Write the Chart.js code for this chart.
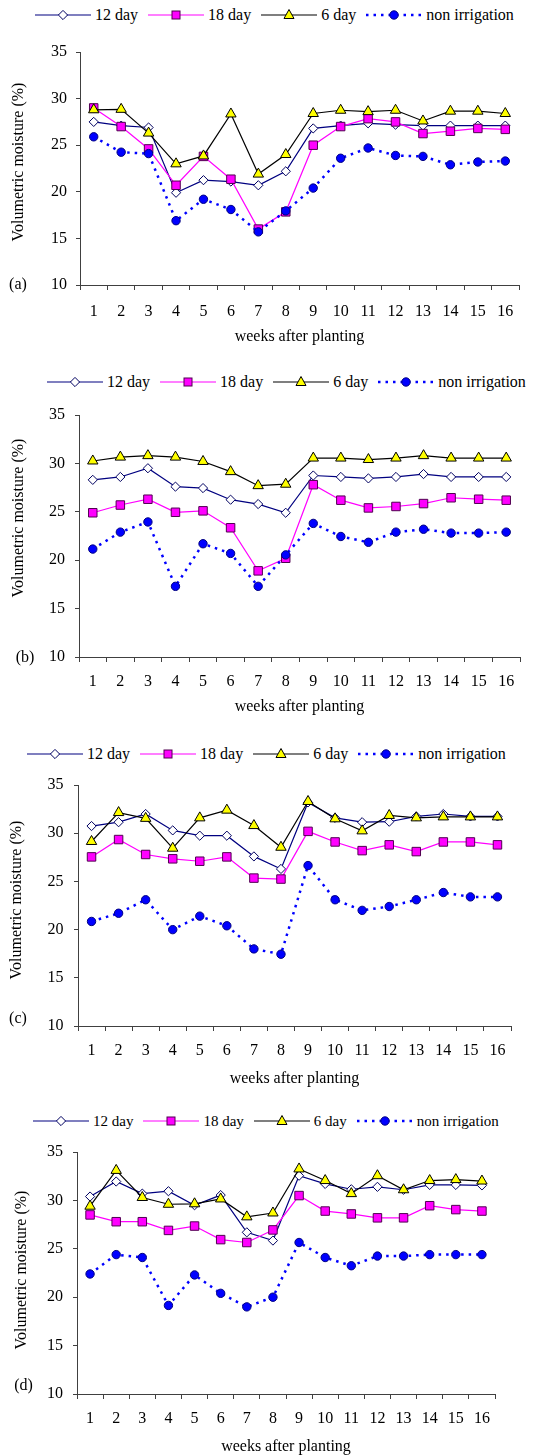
<!DOCTYPE html>
<html>
<head>
<meta charset="utf-8">
<script src="https://cdn.jsdelivr.net/npm/chart.js@4.4.1/dist/chart.umd.min.js"></script>
<style>
  html, body { margin: 0; padding: 0; background: #fff; }
  body { width: 539px; height: 1456px; position: relative; overflow: hidden;
         font-family: "Liberation Serif", "Times New Roman", serif; }
  .panel { position: absolute; left: 0; width: 539px; }
  .legend { position: absolute; height: 20px; display: flex; align-items: center;
            white-space: nowrap; color: #000; }
  .legend .item { display: flex; align-items: center; margin-right: 10px; }
  .legend svg { margin-right: 4px; }
</style>
</head>
<body>
<div class="legend" id="leg-a"></div>
<div class="panel" id="wrap-a"><canvas id="chart-a"></canvas></div>
<div class="legend" id="leg-b"></div>
<div class="panel" id="wrap-b"><canvas id="chart-b"></canvas></div>
<div class="legend" id="leg-c"></div>
<div class="panel" id="wrap-c"><canvas id="chart-c"></canvas></div>
<div class="legend" id="leg-d"></div>
<div class="panel" id="wrap-d"><canvas id="chart-d"></canvas></div>
<script>
const weeks = ["1","2","3","4","5","6","7","8","9","10","11","12","13","14","15","16"];
const seriesNames = ["12 day", "18 day", "6 day", "non irrigation"];
const yTicks = [10, 15, 20, 25, 30, 35];

// (a)
const a12  = [27.5, 27.1, 26.9, 19.9, 21.25, 21.1, 20.7, 22.2, 26.8, 27.1, 27.35, 27.2, 27.1, 27.1, 27.1, 27.1];
const a18  = [29.0, 27.0, 24.6, 20.7, 23.8, 21.35, 16.0, 17.85, 25.0, 27.0, 27.85, 27.5, 26.25, 26.5, 26.8, 26.7];
const a6   = [28.8, 28.85, 26.3, 23.0, 23.85, 28.35, 21.9, 24.0, 28.4, 28.75, 28.6, 28.75, 27.6, 28.65, 28.65, 28.4];
const aNon = [25.9, 24.25, 24.1, 16.9, 19.2, 18.1, 15.7, 17.95, 20.4, 23.6, 24.7, 23.9, 23.8, 22.9, 23.2, 23.3];

// (b)
const b12  = [28.3, 28.6, 29.5, 27.6, 27.45, 26.25, 25.8, 24.9, 28.75, 28.6, 28.45, 28.6, 28.9, 28.6, 28.6, 28.6];
const b18  = [24.9, 25.7, 26.3, 24.95, 25.1, 23.35, 18.9, 20.2, 27.8, 26.2, 25.4, 25.55, 25.85, 26.45, 26.3, 26.2];
const b6   = [30.25, 30.65, 30.8, 30.65, 30.2, 29.15, 27.7, 27.85, 30.55, 30.55, 30.4, 30.55, 30.8, 30.55, 30.55, 30.55];
const bNon = [21.15, 22.9, 23.95, 17.3, 21.7, 20.7, 17.3, 20.55, 23.8, 22.45, 21.85, 22.9, 23.2, 22.8, 22.8, 22.9];

// (c)
const c12  = [30.75, 31.15, 32.0, 30.3, 29.75, 29.75, 27.6, 26.3, 33.2, 31.6, 31.15, 31.2, 31.75, 32.0, 31.75, 31.75];
const c18  = [27.55, 29.35, 27.8, 27.35, 27.1, 27.55, 25.35, 25.25, 30.2, 29.1, 28.2, 28.8, 28.1, 29.1, 29.1, 28.8];
const c6   = [29.15, 32.15, 31.55, 28.45, 31.6, 32.4, 30.8, 28.55, 33.3, 31.5, 30.25, 31.85, 31.6, 31.7, 31.7, 31.7];
const cNon = [20.85, 21.7, 23.1, 20.0, 21.4, 20.4, 18.0, 17.45, 26.65, 23.1, 22.0, 22.4, 23.1, 23.85, 23.4, 23.4];

// (d)
const d12  = [30.4, 31.95, 30.7, 30.95, 29.5, 30.55, 26.7, 25.85, 32.55, 31.7, 31.15, 31.4, 31.1, 31.6, 31.6, 31.55];
const d18  = [28.5, 27.8, 27.8, 26.9, 27.35, 25.95, 25.65, 26.95, 30.5, 28.9, 28.6, 28.2, 28.2, 29.45, 29.05, 28.9];
const d6   = [29.4, 33.1, 30.3, 29.6, 29.65, 30.15, 28.3, 28.7, 33.25, 32.05, 30.7, 32.55, 31.1, 32.05, 32.15, 32.0];
const dNon = [22.4, 24.4, 24.1, 19.15, 22.3, 20.4, 19.0, 20.0, 25.65, 24.1, 23.25, 24.25, 24.25, 24.4, 24.4, 24.4];

const FONT = '"Liberation Serif", "Times New Roman", serif';
const AXIS = '#404040';
const PAD_TOP = 20;

const styles = [
  { borderColor: '#000080', borderWidth: 1.2, pointStyle: 'rectRot', pointRadius: 4.6,
    pointBackgroundColor: '#ffffff', pointBorderColor: '#000060', order: 4 },
  { borderColor: '#ff00ff', borderWidth: 1.2, pointStyle: 'rect', pointRadius: 6,
    pointBackgroundColor: '#ff00ff', pointBorderColor: '#500050', order: 3 },
  { borderColor: '#000000', borderWidth: 1.2, pointStyle: 'triangle', pointRadius: 6,
    pointBackgroundColor: '#ffff00', pointBorderColor: '#000000', order: 2 },
  { borderColor: '#0000ff', borderWidth: 2.5, borderDash: [2.5, 5], pointStyle: 'circle', pointRadius: 4.2,
    pointBackgroundColor: '#0000ff', pointBorderColor: '#000080', order: 1 }
];

// legend samples (svg)
const legendMarks = [
  '<line x1="0" y1="7" x2="56" y2="7" stroke="#000080" stroke-width="1.2"/><polygon points="28,2.4 32.6,7 28,11.6 23.4,7" fill="#fff" stroke="#000060"/>',
  '<line x1="0" y1="7" x2="56" y2="7" stroke="#ff00ff" stroke-width="1.2"/><rect x="24" y="3" width="8" height="8" fill="#ff00ff" stroke="#500050"/>',
  '<line x1="0" y1="7" x2="56" y2="7" stroke="#000" stroke-width="1.2"/><polygon points="28,1.5 33,10.5 23,10.5" fill="#ffff00" stroke="#000"/>',
  '<line x1="0" y1="7" x2="56" y2="7" stroke="#0000ff" stroke-width="2.5" stroke-dasharray="2.5 5"/><circle cx="28" cy="7" r="4.2" fill="#0000ff" stroke="#000080"/>'
];

const panelText = {
  id: 'panelText',
  afterDraw(chart, args, o) {
    const ctx = chart.ctx;
    ctx.save();
    ctx.fillStyle = '#000';
    ctx.font = '16px ' + FONT;
    ctx.textAlign = 'center';
    ctx.textBaseline = 'middle';
    ctx.translate(o.tx, o.ty);
    ctx.rotate(-Math.PI / 2);
    ctx.fillText('Volumetric moisture (%)', 0, 0);
    ctx.restore();
    ctx.save();
    ctx.fillStyle = '#000';
    ctx.font = '16px ' + FONT;
    ctx.textAlign = 'center';
    ctx.textBaseline = 'middle';
    ctx.fillText(o.tag, o.lx, o.ly);
    ctx.restore();
  }
};

function makeLegend(id, p) {
  const el = document.getElementById('leg-' + id);
  el.style.left = p.legX + 'px';
  el.style.top = (p.legY - 10) + 'px';
  el.style.fontSize = p.legFont + 'px';
  el.innerHTML = seriesNames.map((n, i) =>
    '<span class="item"><svg width="56" height="14">' + legendMarks[i] + '</svg><span>' + n + '</span></span>'
  ).join('');
}

function makeChart(id, p) {
  const wrap = document.getElementById('wrap-' + id);
  const canvasTop = p.top - PAD_TOP;
  wrap.style.top = canvasTop + 'px';
  wrap.style.height = (PAD_TOP + (p.bottom - p.top) + p.xh) + 'px';
  makeLegend(id, p);

  new Chart(document.getElementById('chart-' + id), {
    type: 'line',
    data: {
      labels: weeks,
      datasets: p.series.map((vals, i) => Object.assign({
        label: seriesNames[i], data: vals, fill: false, tension: 0,
        pointBorderWidth: 1, pointHoverRadius: styles[i].pointRadius
      }, styles[i]))
    },
    options: {
      responsive: true,
      maintainAspectRatio: false,
      animation: false,
      events: [],
      layout: { padding: { top: PAD_TOP, left: 0, right: 539 - p.right, bottom: 0 } },
      plugins: {
        legend: { display: false },
        tooltip: { enabled: false },
        panelText: { tx: p.tx, ty: p.ty - canvasTop, tag: p.tag, lx: p.lx, ly: p.ly - canvasTop }
      },
      scales: {
        x: {
          offset: true,
          grid: { offset: true, drawOnChartArea: false, tickLength: 5, color: AXIS },
          border: { color: AXIS },
          ticks: { autoSkip: false, maxRotation: 0, padding: p.xpad, color: '#000',
                   font: { family: FONT, size: 16 } },
          title: { display: true, text: 'weeks after planting', color: '#000', padding: 0,
                   font: { family: FONT, size: 16 } },
          afterFit: s => { s.height = p.xh; }
        },
        y: {
          min: 10, max: 35,
          afterBuildTicks: s => { s.ticks = yTicks.map(v => ({ value: v })); },
          grid: { drawOnChartArea: false, tickLength: 4, color: AXIS },
          border: { color: AXIS },
          ticks: { padding: p.ypad, color: '#000', font: { family: FONT, size: 16 } },
          afterFit: s => { s.width = p.left; }
        }
      }
    },
    plugins: [panelText]
  });
}

makeChart('a', { series: [a12, a18, a6, aNon], top: 52, bottom: 285, left: 80, right: 519,
  xh: 61, xpad: 12, ypad: 9, tx: 18.5, ty: 162, tag: '(a)', lx: 18, ly: 285,
  legX: 35, legY: 15, legFont: 16 });
makeChart('b', { series: [b12, b18, b6, bNon], top: 415, bottom: 657, left: 79, right: 520,
  xh: 59, xpad: 10.5, ypad: 10, tx: 18.5, ty: 518, tag: '(b)', lx: 25, ly: 658,
  legX: 47, legY: 382, legFont: 16 });
makeChart('c', { series: [c12, c18, c6, cNon], top: 785, bottom: 1026, left: 78, right: 511,
  xh: 62, xpad: 10, ypad: 10.5, tx: 16.5, ty: 900, tag: '(c)', lx: 18, ly: 1019,
  legX: 27, legY: 754, legFont: 16 });
makeChart('d', { series: [d12, d18, d6, dNon], top: 1152, bottom: 1394, left: 77, right: 495,
  xh: 62, xpad: 10.5, ypad: 10, tx: 21.5, ty: 1270, tag: '(d)', lx: 23.5, ly: 1386,
  legX: 33, legY: 1121, legFont: 15 });
</script>
</body>
</html>
